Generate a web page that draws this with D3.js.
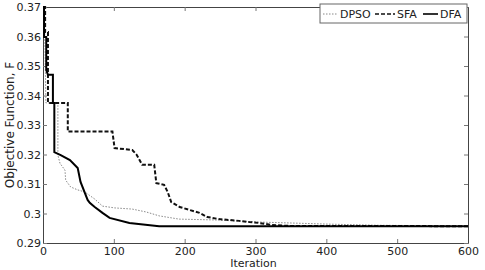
<!DOCTYPE html>
<html>
<head>
<meta charset="utf-8">
<script src="https://cdn.jsdelivr.net/npm/d3@7"></script>
<style>
  body { margin: 0; background: #fff; }
  text { font-family: "DejaVu Sans", Arial, sans-serif; fill: #222; }
</style>
</head>
<body>
<div id="chart"></div>
<script>
// convergence curves, [iteration, objective value]
const dpsoPoints = [
  [0, 0.370], [1, 0.370], [3, 0.355], [4, 0.3375], [21, 0.3375], [21, 0.3198],
  [24, 0.317], [31, 0.3147], [32, 0.3113], [39, 0.309], [49, 0.308], [59, 0.3073],
  [73, 0.3049], [84, 0.3025], [101, 0.3019], [126, 0.3015], [146, 0.3005],
  [164, 0.2992], [192, 0.2981], [245, 0.2978], [305, 0.2971], [403, 0.2964],
  [473, 0.2960], [600, 0.2958]
];
const sfaPoints = [
  [0, 0.370], [3, 0.370], [3, 0.3615], [7, 0.3615], [7, 0.3375], [35, 0.3375],
  [35, 0.3278], [98, 0.3278], [101, 0.3222], [126, 0.3215], [132, 0.3200],
  [140, 0.3165], [157, 0.3165], [160, 0.3103], [171, 0.3097], [176, 0.3073],
  [181, 0.3039], [193, 0.3022], [207, 0.3012], [221, 0.3002], [232, 0.2988],
  [249, 0.2981], [277, 0.2975], [291, 0.2971], [305, 0.2968], [323, 0.2961],
  [347, 0.2958], [600, 0.2957]
];
const dfaPoints = [
  [0, 0.370], [1.5, 0.370], [1.5, 0.3598], [4.6, 0.3598], [4.6, 0.3486],
  [7, 0.347], [14, 0.347], [14, 0.3375], [16, 0.3375], [16, 0.3208],
  [25, 0.3198], [38, 0.3181], [49, 0.3154], [53, 0.3107], [63, 0.3046],
  [66, 0.3036], [73, 0.3022], [84, 0.3002], [94, 0.2985], [122, 0.2968],
  [164, 0.2957], [600, 0.2957]
];
const xTicks = [0, 100, 200, 300, 400, 500, 600];
const yTicks = [0.29, 0.30, 0.31, 0.32, 0.33, 0.34, 0.35, 0.36, 0.37];
const legendLabels = ['DPSO', 'SFA', 'DFA'];

// size and margins
const width = 485, height = 270;
const margin = {top: 7, right: 17, bottom: 27, left: 43};
const plotW = width - margin.left - margin.right;
const plotH = height - margin.top - margin.bottom;

const svg = d3.select('#chart').append('svg')
  .attr('width', width)
  .attr('height', height);

const x = d3.scaleLinear().domain([0, 600]).range([0, plotW]);
const y = d3.scaleLinear().domain([0.29, 0.37]).range([plotH, 0]);

const g = svg.append('g')
  .attr('transform', `translate(${margin.left},${margin.top})`);

// axes, ticks pointing inward like matlab
const yFmt = (d) => String(+d.toFixed(2));
const styleAxis = (sel) => {
  sel.select('.domain').attr('stroke', '#444');
  sel.selectAll('.tick line').attr('stroke', '#777');
  sel.selectAll('text')
    .style('font-family', '"DejaVu Sans", Arial, sans-serif')
    .style('font-size', '11px')
    .attr('fill', '#222');
};

g.append('g')
  .attr('transform', `translate(0,${plotH})`)
  .call(d3.axisBottom(x).tickValues(xTicks).tickSize(-4).tickSizeOuter(0).tickPadding(4))
  .call(styleAxis);
g.append('g')
  .call(d3.axisTop(x).tickValues(xTicks).tickSize(-4).tickSizeOuter(0).tickFormat(''))
  .call(styleAxis);
g.append('g')
  .call(d3.axisLeft(y).tickValues(yTicks).tickSize(-4).tickSizeOuter(0).tickPadding(2).tickFormat(yFmt))
  .call(styleAxis);
g.append('g')
  .attr('transform', `translate(${plotW},0)`)
  .call(d3.axisRight(y).tickValues(yTicks).tickSize(-4).tickSizeOuter(0).tickFormat(''))
  .call(styleAxis);

// curves
const line = d3.line()
  .x((d) => x(d[0]))
  .y((d) => y(d[1]));

const series = [
  {data: dpsoPoints, color: '#888', width: 1, dash: '1.5,1.5'},
  {data: sfaPoints, color: '#111', width: 2, dash: '4,2'},
  {data: dfaPoints, color: '#000', width: 2, dash: null}
];

g.selectAll('.curve')
  .data(series)
  .join('path')
    .attr('class', 'curve')
    .attr('fill', 'none')
    .attr('stroke', (d) => d.color)
    .attr('stroke-width', (d) => d.width)
    .attr('stroke-dasharray', (d) => d.dash)
    .attr('d', (d) => line(d.data));

// axis titles
svg.append('text')
  .attr('x', margin.left + x(300) - 2)
  .attr('y', 267)
  .attr('text-anchor', 'middle')
  .style('font-size', '11px')
  .text('Iteration');
svg.append('text')
  .attr('transform', `translate(14,${margin.top + plotH / 2}) rotate(-90)`)
  .attr('text-anchor', 'middle')
  .style('font-size', '12px')
  .text('Objective Function, F');

// legend box in the top right corner
const legend = svg.append('g').attr('transform', 'translate(320,4)');
legend.append('rect')
  .attr('width', 147)
  .attr('height', 19)
  .attr('fill', '#fff')
  .attr('stroke', '#666')
  .attr('stroke-width', 1);

const legendPos = [[3, 20], [55, 77], [103, 120]];
legendLabels.forEach((label, i) => {
  const s = series[i];
  const [x0, tx] = legendPos[i];
  legend.append('line')
    .attr('x1', x0).attr('x2', tx - 2)
    .attr('y1', 10).attr('y2', 10)
    .attr('stroke', s.color)
    .attr('stroke-width', s.width === 2 ? 1.6 : 1)
    .attr('stroke-dasharray', s.dash);
  legend.append('text')
    .attr('x', tx)
    .attr('y', 14)
    .style('font-size', '11px')
    .text(label);
});
</script>
</body>
</html>
